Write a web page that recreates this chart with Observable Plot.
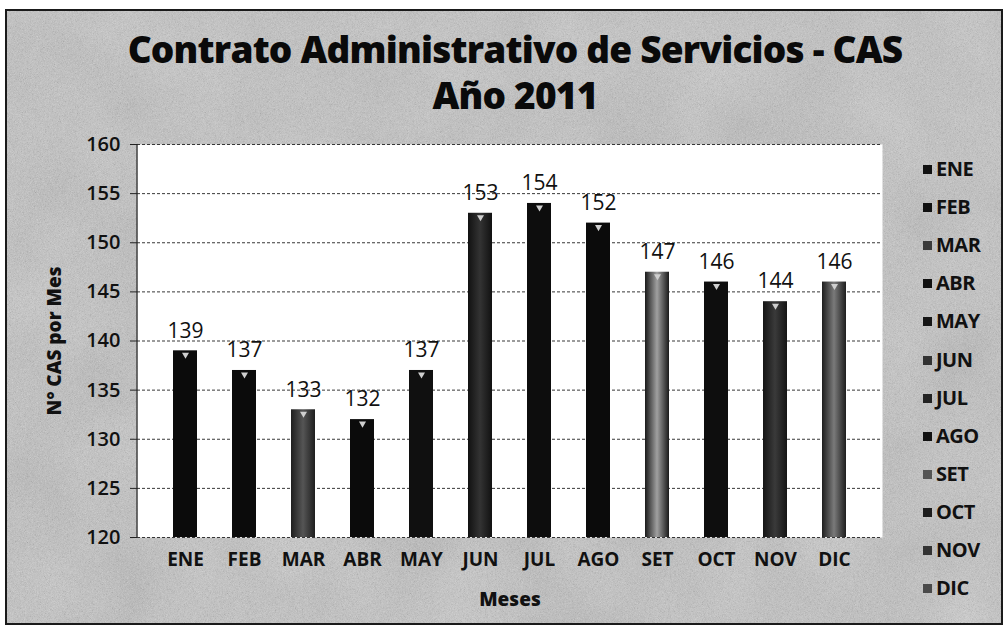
<!DOCTYPE html>
<html>
<head>
<meta charset="utf-8">
<script src="https://cdn.jsdelivr.net/npm/d3@7"></script>
<script src="https://cdn.jsdelivr.net/npm/@observablehq/plot@0.6"></script>
<style>
  html, body { margin: 0; padding: 0; background: #fff; }
  #wrap { position: relative; width: 1008px; height: 630px; overflow: hidden; font-family: "Open Sans", Lato, sans-serif; }
  #bg { position: absolute; left: 5px; top: 9px; width: 994px; height: 612px; border: 2px solid #1a1a1a;
        background-color: #c4c4c4; overflow: hidden; }
  #bg svg { position: absolute; left: 0; top: 0; }
  .tl { position: absolute; left: 0; width: 1030px; text-align: center; font-weight: 800;
        font-size: 37px; line-height: 46px; height: 46px; color: #0a0a0a; letter-spacing: -0.8px; white-space: nowrap; }
  #title { top: 26px; }
  #subtitle { top: 72px; }
  #chart { position: absolute; left: 0; top: 0; }
  #legend { position: absolute; left: 923px; top: 0; }
  .li { position: absolute; left: 0; height: 24px; white-space: nowrap; font-weight: 700; font-size: 20px; color: #111; letter-spacing: -0.5px; }
  .sw { position: absolute; left: 0; top: 8px; width: 9px; height: 9px; }
  .lt { position: absolute; left: 13px; top: 0; line-height: 24px; }
</style>
</head>
<body>
<div id="wrap">
  <div id="bg">
    <svg width="994" height="612">
      <filter id="noise"><feTurbulence type="fractalNoise" baseFrequency="1.4" numOctaves="2" seed="3"/>
        <feColorMatrix type="saturate" values="0"/></filter>
      <filter id="blotch"><feTurbulence type="fractalNoise" baseFrequency="0.012" numOctaves="2" seed="7"/>
        <feColorMatrix type="saturate" values="0"/></filter>
      <rect width="994" height="612" fill="#c4c4c4"/>
      <rect width="994" height="612" filter="url(#blotch)" opacity="0.35"/>
      <rect width="994" height="612" filter="url(#noise)" opacity="0.55"/>
    </svg>
  </div>
  <div id="title" class="tl"></div>
  <div id="subtitle" class="tl"></div>
  <div id="chart"></div>
  <div id="legend"></div>
</div>
<script>
// ---- data ----
const months = ["ENE","FEB","MAR","ABR","MAY","JUN","JUL","AGO","SET","OCT","NOV","DIC"];
const values = [139, 137, 133, 132, 137, 153, 154, 152, 147, 146, 144, 146];
const yTicks = [120, 125, 130, 135, 140, 145, 150, 155, 160];
const titleText = "Contrato Administrativo de Servicios - CAS";
const subtitleText = "Año 2011";
const xLabel = "Meses";
const yLabel = "N° CAS por Mes";

// ---- styles ----
const barFills = ["#0b0b0b","#0b0b0b","url(#gMAR)","#0b0b0b","#101010","url(#gJUN)","#0d0d0d","#0b0b0b","url(#gSET)","#0e0e0e","url(#gNOV)","url(#gDIC)"];
const swatch  = ["#111","#111","#3a3a3a","#111","#161616","#333","#222","#111","#555","#1c1c1c","#333","#4a4a4a"];
const grads = {
  gMAR: ["#1e1e1e", "#555", "#1e1e1e"],
  gJUN: ["#111", "#333", "#111"],
  gSET: ["#1a1a1a", "#a0a0a0", "#1a1a1a"],
  gNOV: ["#151515", "#3a3a3a", "#151515"],
  gDIC: ["#1e1e1e", "#7a7a7a", "#1e1e1e"]
};

document.getElementById("title").textContent = titleText;
document.getElementById("subtitle").textContent = subtitleText;

const data = months.map((m, i) => ({month: m, value: values[i], fill: barFills[i]}));

const plot = Plot.plot({
  width: 1008,
  height: 630,
  marginLeft: 137,
  marginRight: 126,
  marginTop: 144,
  marginBottom: 93,
  style: {background: "transparent", fontFamily: "'Open Sans', Lato, sans-serif", color: "#111"},
  x: {domain: months, padding: 0.6, label: null},
  y: {domain: [120, 160], label: null},
  color: {type: "identity"},
  marks: [
    Plot.frame({fill: "white", stroke: null}),
    Plot.gridY(yTicks, {stroke: "#222", strokeOpacity: 0.9, strokeDasharray: "3,2", strokeWidth: 1}),
    Plot.barY(data, {x: "month", y1: 120, y2: "value", fill: "fill"}),
    Plot.dot(data, {x: "month", y: "value", symbol: "triangle", rotate: 180, r: 2.6, dy: 4, fill: "#cfcfcf", stroke: null}),
    Plot.text(data, {x: "month", y: "value", text: d => String(d.value), dy: -20, fontSize: 21, fill: "#111"}),
    Plot.axisY(yTicks, {tickSize: 7, tickPadding: 10, fontSize: 20, fontWeight: 600, stroke: "#222",
      label: yLabel, labelArrow: false, labelAnchor: "center", labelOffset: 90}),
    Plot.axisX({tickSize: 0, tickPadding: 15, fontSize: 19, fontWeight: 700,
      label: xLabel, labelArrow: false, labelAnchor: "center", labelOffset: 68})
  ]
});

// gradient defs
const svg = d3.select(plot);
const defs = svg.insert("defs", ":first-child");
for (const [id, stops] of Object.entries(grads)) {
  const g = defs.append("linearGradient").attr("id", id).attr("x1", "0").attr("x2", "1").attr("y1", "0").attr("y2", "0");
  stops.forEach((c, k) => g.append("stop").attr("offset", k / (stops.length - 1)).attr("stop-color", c));
}
// y axis line from the library's scales
const xs = plot.scale("x"), ys = plot.scale("y");
svg.append("line")
  .attr("x1", xs.range[0]).attr("x2", xs.range[0])
  .attr("y1", ys.apply(160)).attr("y2", ys.apply(120))
  .attr("stroke", "#222").attr("stroke-width", 1.2);

// text styling
svg.selectAll("[aria-label='y-axis tick label'], [aria-label='y-axis tick label'] text")
  .style("font-size", "20px").style("font-weight", "600");
svg.selectAll("[aria-label='x-axis tick label'], [aria-label='x-axis tick label'] text")
  .style("font-size", "19px").style("font-weight", "700");
svg.selectAll("[aria-label='y-axis label'] text, [aria-label='x-axis label'] text, [aria-label='y-axis label'], [aria-label='x-axis label']")
  .style("font-size", "19px").style("font-weight", "800");

document.getElementById("chart").appendChild(plot);

// legend
const legend = d3.select("#legend");
months.forEach((m, i) => {
  const item = legend.append("div").attr("class", "li").style("top", (157 + i * 38.1) + "px");
  item.append("div").attr("class", "sw").style("background", swatch[i]);
  item.append("div").attr("class", "lt").text(m);
});
</script>
</body>
</html>
